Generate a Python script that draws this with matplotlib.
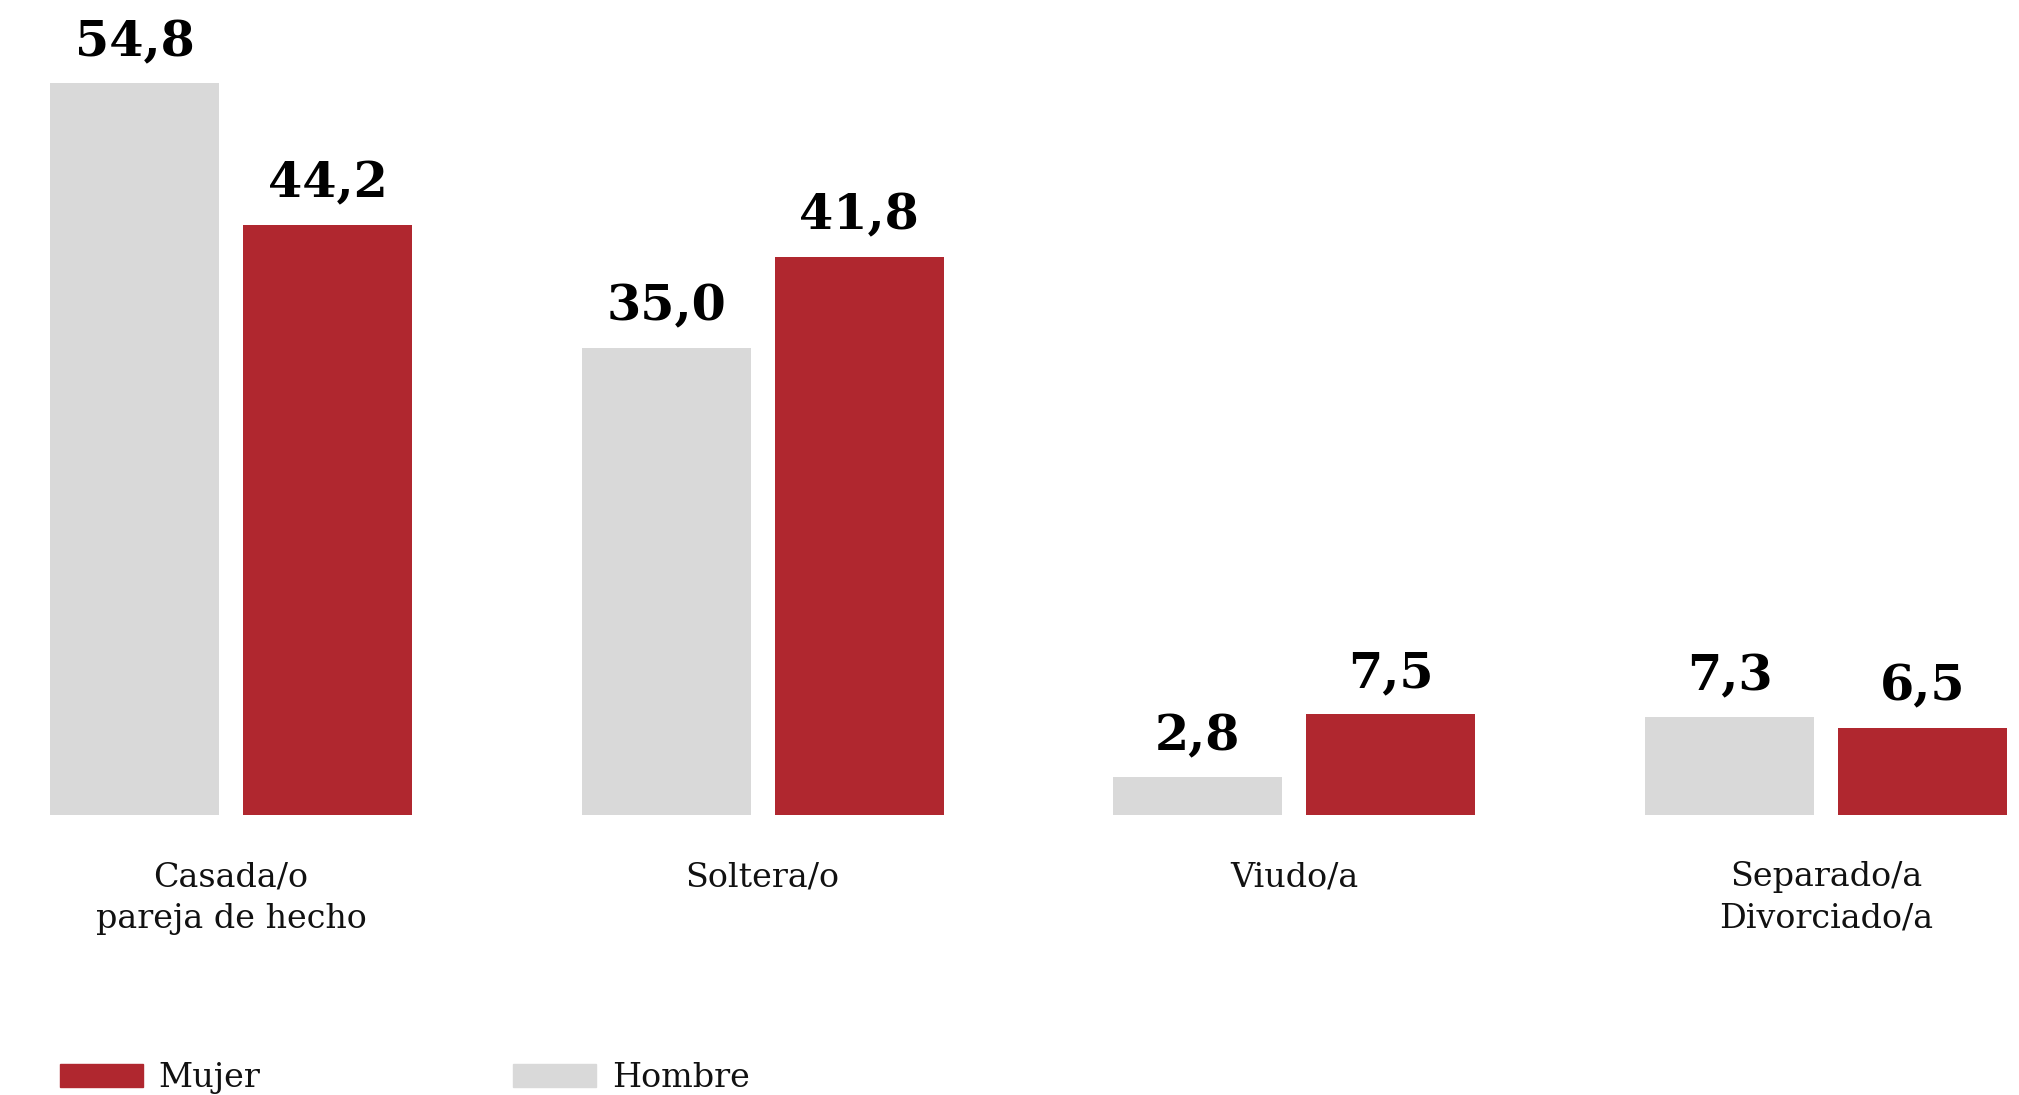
import matplotlib
matplotlib.use("Agg")
import numpy as np
import matplotlib.pyplot as plt
from matplotlib.patches import Rectangle

# 数据
categorias = ["Casada/o\npareja de hecho", "Soltera/o", "Viudo/a", "Separado/a\nDivorciado/a"]
hombre = [54.8, 35.0, 2.8, 7.3]
mujer = [44.2, 41.8, 7.5, 6.5]
series = ["Hombre", "Mujer"]
leyenda = ["Mujer", "Hombre"]

C_HOMBRE = "#D9D9D9"
C_MUJER = "#B0272F"
FONT = "DejaVu Serif"

W, H = 2019, 1095
fig = plt.figure(figsize=(W / 100, H / 100), dpi=100)

# ejes: línea base a 814.5 px desde arriba
base_px = 814.5
ax = fig.add_axes([0, (H - base_px) / H, 1, base_px / H])
px_unit = 13.34
ax.set_ylim(0, base_px / px_unit)
grp = 531.7
x0 = 231
ax.set_xlim(-x0 / grp, (W - x0) / grp)

x = np.arange(len(categorias))
bw = 169 / grp
off = (169 + 24) / 2 / grp

b_h = ax.bar(x - off, hombre, width=bw, color=C_HOMBRE, label="Hombre")
b_m = ax.bar(x + off, mujer, width=bw, color=C_MUJER, label="Mujer")

for bars, vals in [(b_h, hombre), (b_m, mujer)]:
    for r, v in zip(bars, vals):
        ax.annotate(f"{v:.1f}".replace(".", ","),
                    (r.get_x() + r.get_width() / 2, v),
                    xytext=(0, 19.5), textcoords="offset points",
                    ha="center", va="baseline", fontsize=35.5,
                    fontweight="bold", family=FONT, color="black")

for xi, lab in zip(x, categorias):
    ax.annotate(lab, (xi, 0), xycoords=("data", "axes fraction"),
                xytext=(0, -33.5), textcoords="offset points",
                ha="center", va="top", fontsize=24, family=FONT,
                linespacing=1.38, color="#111111", annotation_clip=False)

ax.axis("off")

# leyenda manual
leg = [("Mujer", C_MUJER, 60, 158), ("Hombre", C_HOMBRE, 513, 612)]
for name, col, px0, tx in leg:
    fig.patches.append(Rectangle((px0 / W, (H - 1087) / H), 83 / W, 23 / H,
                                 transform=fig.transFigure, color=col))
    fig.text(tx / W, (H - 1087) / H, name, fontsize=24, family=FONT,
             va="baseline", ha="left", color="#111111")

fig.savefig("out.png", dpi=100)
